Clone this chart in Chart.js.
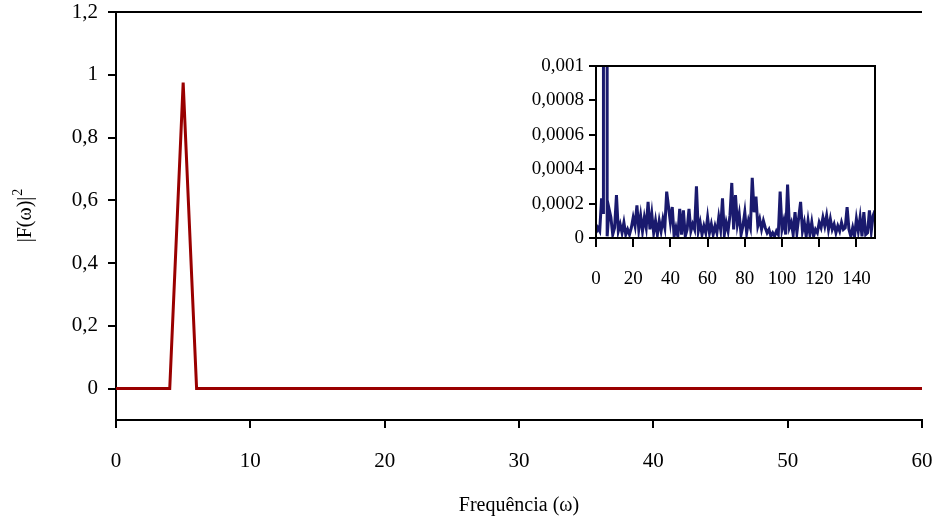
<!DOCTYPE html>
<html>
<head>
<meta charset="utf-8">
<script src="https://cdn.jsdelivr.net/npm/chart.js@4"></script>
<style>
  html, body { margin: 0; padding: 0; background: #fff; }
  #wrap { position: relative; width: 939px; height: 522px; }
  #main { position: absolute; left: 0; top: 0; }
  #inset { position: absolute; left: 500px; top: 50px; }
</style>
</head>
<body>
<div id="wrap">
  <canvas id="main" width="939" height="522"></canvas>
  <canvas id="inset" width="390" height="245"></canvas>
</div>
<script>
// power spectrum |F(w)|^2, one value per integer frequency 0..150
const spectrum = [
  0.00003, 0.00006, 0.00004, 0.00023, 0.00014, 0.975,   0.00001, 0.00017, 0.00012, 0.00002,
  0.00006, 0.00025, 0.00004, 0.00008, 0.00003, 0.00009, 0.00002, 0.00005, 0.00002, 0.00006,
  0.00012, 0.00007, 0.00019, 0.00005, 0.00013, 0.00004, 0.00012, 0.00006, 0.00021, 0.00005,
  0.00014, 0.00003, 0.00010, 0.00002, 0.00010, 0.00004, 0.00011, 0.00006, 0.00027, 0.00018,
  0.00009, 0.00018, 0.00001, 0.00006, 0.00001, 0.00017, 0.00002, 0.00016, 0.00001, 0.00005,
  0.00017, 0.00004, 0.00008, 0.00005, 0.00030, 0.00004, 0.00009, 0.00002, 0.00007, 0.00003,
  0.00012, 0.00003, 0.00008, 0.00002, 0.00007, 0.00003, 0.00012, 0.00005, 0.00023, 0.00002,
  0.00009, 0.00004, 0.00013, 0.00032, 0.00005, 0.00025, 0.00008, 0.00014, 0.00002, 0.00007,
  0.00015, 0.00003, 0.00010, 0.00006, 0.00035, 0.00015, 0.00024, 0.00007, 0.00011, 0.00005,
  0.00010, 0.00006, 0.00003, 0.00005, 0.00001, 0.00003, 0.00001, 0.00004, 0.00002, 0.00027,
  0.00005, 0.00010, 0.00002, 0.00031, 0.00006, 0.00009, 0.00002, 0.00015, 0.00003, 0.00012,
  0.00021, 0.00004, 0.00009, 0.00001, 0.00010, 0.00002, 0.00009, 0.00001, 0.00005, 0.00003,
  0.00009, 0.00006, 0.00012, 0.00007, 0.00013, 0.00005, 0.00011, 0.00005, 0.00008, 0.00003,
  0.00007, 0.00004, 0.00009, 0.00005, 0.00006, 0.00018, 0.00005, 0.00001, 0.00006, 0.00001,
  0.00011, 0.00004, 0.00012, 0.00001, 0.00015, 0.00002, 0.00003, 0.00016, 0.00004, 0.00013,
  0.00016
];

const mainXTicks = [0, 10, 20, 30, 40, 50, 60];
const mainYTicks = [0, 0.2, 0.4, 0.6, 0.8, 1, 1.2];
const insetXTicks = [0, 20, 40, 60, 80, 100, 120, 140];
const insetYTicks = [0, 0.0002, 0.0004, 0.0006, 0.0008, 0.001];

const points = spectrum.map((v, i) => ({ x: i, y: v }));

const serif = 'Liberation Serif';
const comma = v => String(Number(v.toFixed(4))).replace('.', ',');

function setTicks(list) {
  return scale => { scale.ticks = list.map(v => ({ value: v })); };
}

// fix the axis box size and drop the label overhang padding
function fixSize(prop, size) {
  return s => {
    s[prop] = size;
    s.paddingTop = 0; s.paddingBottom = 0;
    s.paddingLeft = 0; s.paddingRight = 0;
  };
}

// top border of the main plot
const topLine = {
  id: 'topLine',
  afterDraw(chart) {
    const { ctx, chartArea } = chart;
    ctx.save();
    ctx.strokeStyle = '#000';
    ctx.lineWidth = 2;
    ctx.beginPath();
    ctx.moveTo(chartArea.left, chartArea.top);
    ctx.lineTo(chartArea.right, chartArea.top);
    ctx.stroke();
    ctx.restore();
  }
};

// axis titles for the main plot
const titles = {
  id: 'titles',
  afterDraw(chart) {
    const { ctx, chartArea } = chart;
    ctx.save();
    ctx.fillStyle = '#000';
    ctx.font = '20px "' + serif + '"';
    ctx.textAlign = 'center';
    ctx.textBaseline = 'middle';
    ctx.fillText('Frequência (ω)', (chartArea.left + chartArea.right) / 2, 506);

    // |F(ω)|² rotated, with a raised 2
    ctx.translate(26, (chartArea.top + chartArea.bottom) / 2);
    ctx.rotate(-Math.PI / 2);
    const base = '|F(ω)|';
    const w = ctx.measureText(base).width;
    ctx.font = '14px "' + serif + '"';
    const w2 = ctx.measureText('2').width;
    ctx.textAlign = 'left';
    ctx.fillText('2', -(w + w2) / 2 + w + 1, -8);
    ctx.font = '20px "' + serif + '"';
    ctx.fillText(base, -(w + w2) / 2, 0);
    ctx.restore();
  }
};

// full frame around the inset
const frame = {
  id: 'frame',
  afterDraw(chart) {
    const { ctx, chartArea } = chart;
    ctx.save();
    ctx.strokeStyle = '#000';
    ctx.lineWidth = 2;
    ctx.strokeRect(chartArea.left, chartArea.top,
      chartArea.right - chartArea.left, chartArea.bottom - chartArea.top);
    ctx.restore();
  }
};

const axisGrid = len => ({ drawOnChartArea: false, drawTicks: true, tickLength: len, color: '#000', lineWidth: 2 });
const axisBorder = { color: '#000', width: 2 };

new Chart(document.getElementById('main'), {
  type: 'line',
  data: {
    datasets: [{
      data: points,
      borderColor: '#990000',
      borderWidth: 3,
      pointRadius: 0,
      tension: 0,
      fill: false
    }]
  },
  options: {
    responsive: false,
    animation: false,
    layout: { padding: { top: 12, right: 17, left: 0, bottom: 0 } },
    plugins: { legend: { display: false }, tooltip: { enabled: false } },
    scales: {
      x: {
        type: 'linear', min: 0, max: 60,
        afterBuildTicks: setTicks(mainXTicks),
        afterFit: fixSize('height', 102),
        grid: axisGrid(8), border: axisBorder,
        ticks: { color: '#000', font: { family: serif, size: 21 }, padding: 21, maxRotation: 0 }
      },
      y: {
        min: -0.1, max: 1.2,
        afterBuildTicks: setTicks(mainYTicks),
        afterFit: fixSize('width', 116),
        grid: axisGrid(8), border: axisBorder,
        ticks: { color: '#000', font: { family: serif, size: 21 }, padding: 10, callback: comma }
      }
    }
  },
  plugins: [topLine, titles]
});

new Chart(document.getElementById('inset'), {
  type: 'line',
  data: {
    datasets: [{
      data: points,
      borderColor: '#1a1a6e',
      borderWidth: 3,
      pointRadius: 0,
      tension: 0,
      fill: false
    }]
  },
  options: {
    responsive: false,
    animation: false,
    layout: { padding: { top: 16, right: 15, left: 0, bottom: 0 } },
    plugins: { legend: { display: false }, tooltip: { enabled: false } },
    scales: {
      x: {
        type: 'linear', min: 0, max: 150,
        afterBuildTicks: setTicks(insetXTicks),
        afterFit: fixSize('height', 57),
        grid: axisGrid(9), border: axisBorder,
        ticks: { color: '#000', font: { family: serif, size: 19 }, padding: 21, maxRotation: 0 }
      },
      y: {
        min: 0, max: 0.001,
        afterBuildTicks: setTicks(insetYTicks),
        afterFit: fixSize('width', 96),
        grid: axisGrid(7), border: axisBorder,
        ticks: { color: '#000', font: { family: serif, size: 19 }, padding: 5, callback: comma }
      }
    }
  },
  plugins: [frame]
});
</script>
</body>
</html>
